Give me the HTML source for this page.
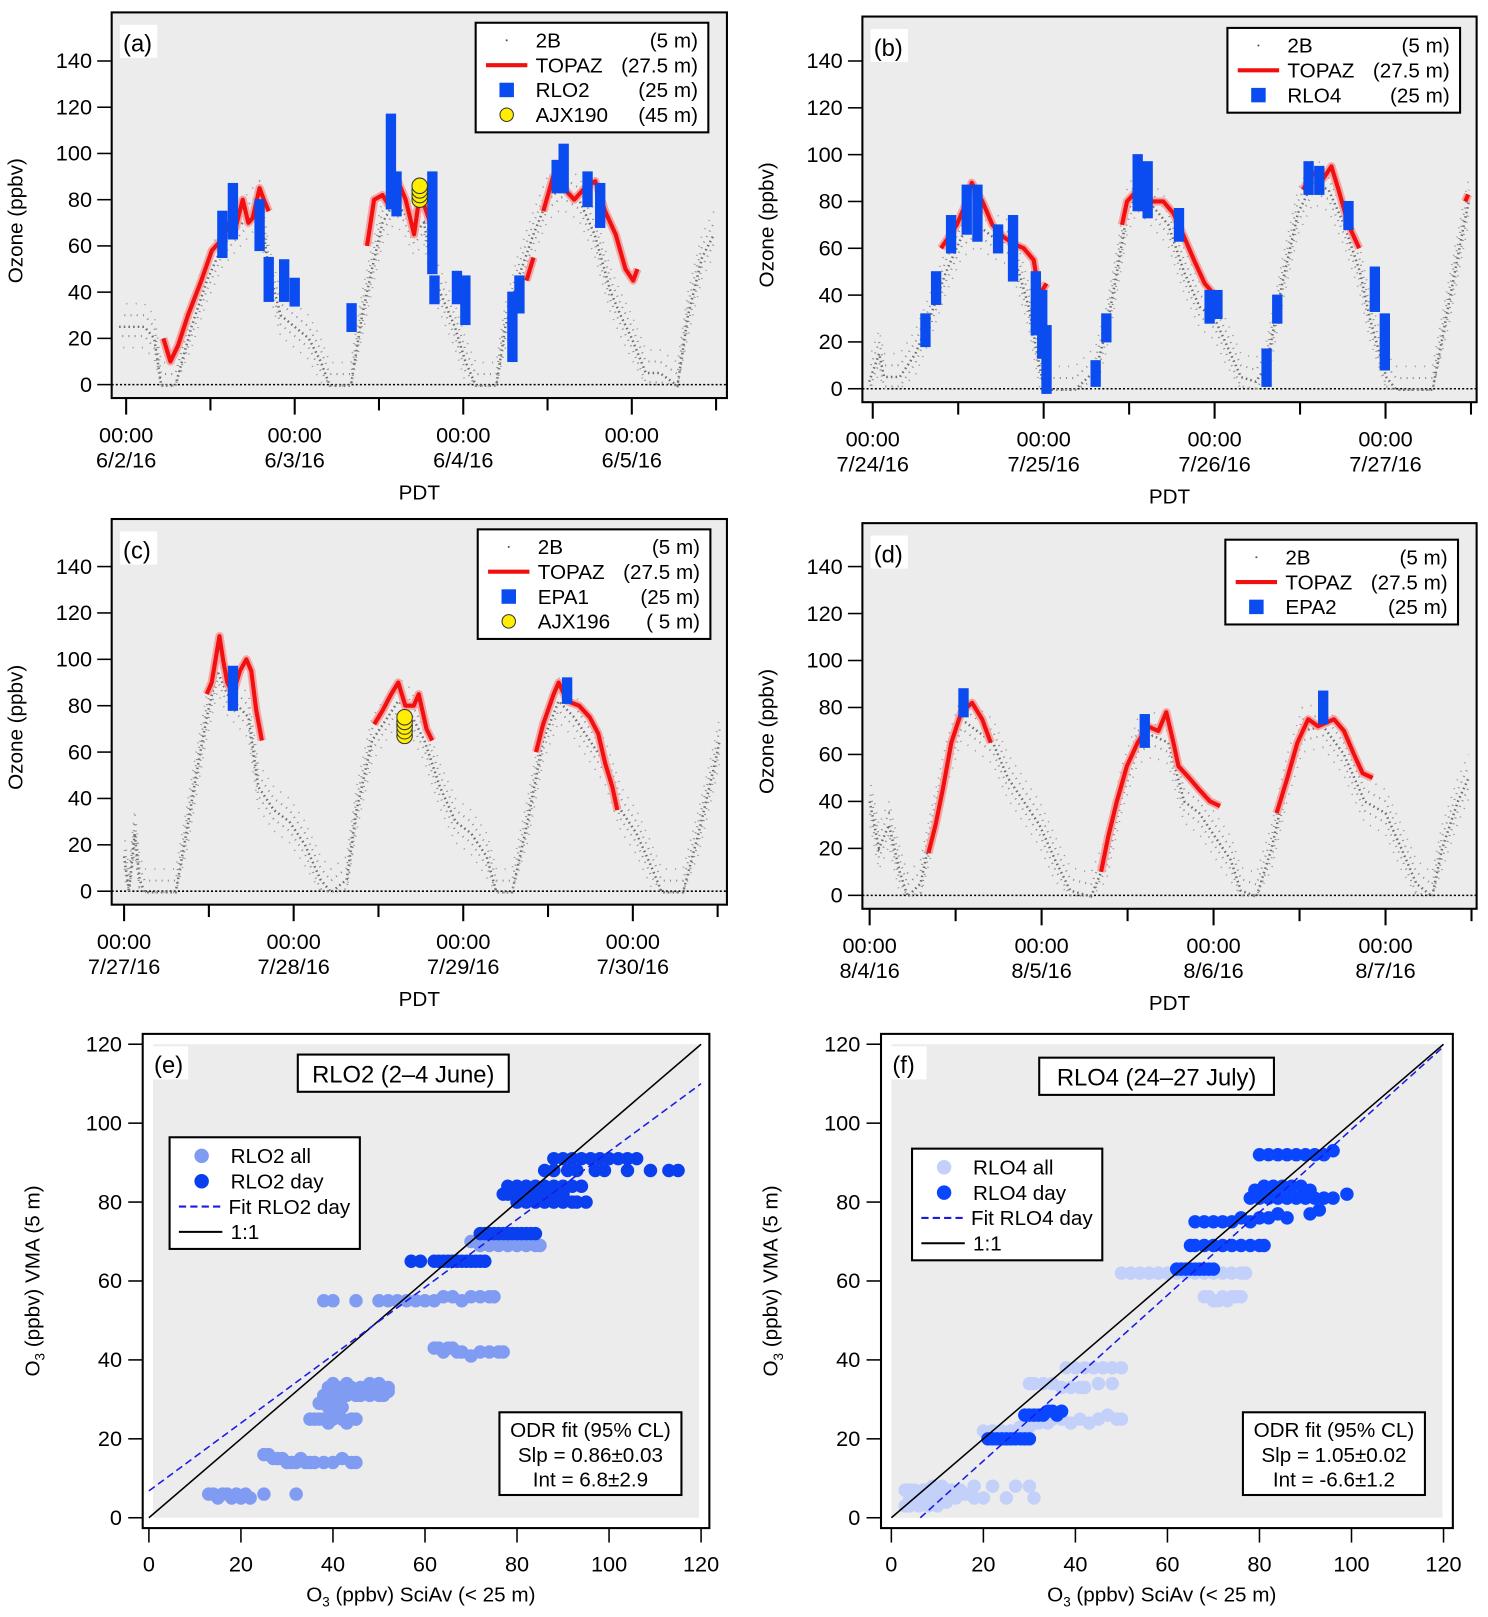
<!DOCTYPE html>
<html><head><meta charset="utf-8">
<style>
html,body{margin:0;padding:0;background:#fff;}
svg{display:block;font-family:"Liberation Sans",sans-serif;}
</style></head>
<body>
<svg id="fig" width="1488" height="1617" viewBox="0 0 1439 1564" preserveAspectRatio="none" xmlns="http://www.w3.org/2000/svg"></svg>
<script>
// ===== Panel (a) data: hours since first date tick, ozone ppbv =====
const aGreyH=[-1,2.6,4,5,7,9.3,11.5,13.7,16,18,19,20.3,22,24,26,27.7,29,32,33.6,35,36.5,38,39.5,41,42.4,44,45.4,46.8,48.3,49.8,52.7,54,55.7,58,60,62,64.5,66.7,69,70.4,72,74,76,78.5,80,82,83.7];
const aGreyV=[25,25,20,0,0,25,45,60,68,75,78,50,30,25,20,10,0,0,30,50,70,78,75,65,70,45,35,25,10,0,0,25,45,65,80,85,80,65,40,30,20,5,5,0,30,55,65];
const aRedH=[5.3,6.3,7.4,8.8,10.7,12.2,13.7,14.7,15.6,16.6,17.4,18,19,19.6,20.3,null,34.3,35.3,36.5,37.3,38.7,39.8,41,41.7,42.4,43.3,null,57,58,null,59.4,60.8,62.3,63.8,65.3,66.8,68.2,69.7,71.1,72.2,72.8];
const aRedV=[20,10,17,30,45,58,63,70,68,80,70,72,85,80,75,null,60,80,82,78,88,80,65,80,78,70,null,45,55,null,75,90,85,80,85,88,75,65,50,45,50];
const aBlueH=[13.7,15.2,19,20.3,22.5,24,32.1,37.7,38.5,43.6,43.9,47.1,48.3,55,56,61.3,62.3,65.7,67.5];
const aBlueMin=[57,65,60,38,38,36,25,78,75,50,37,37,28,12,33,85,85,79,70];
const aBlueMax=[73,85,78,53,52,44,33,115,90,90,45,47,45,38,45,95,102,90,85];
const aYelH=[41.8,41.8,41.8,41.8];
const aYelV=[80,82,84,86];
// ===== Panel (b) =====
const bGreyH=[-0.5,0.9,1.6,3.8,6,8,10.3,12.5,14.7,16.8,19,20.5,21.9,23.4,24.1,28.4,31.3,32.8,34.3,35.7,37.2,39.3,41.5,43.7,45.9,48,49.5,51.7,53.8,55.3,57.5,59.7,61.8,64,66.2,68.4,69.8,72.1,73.5,78.6,80.8,83,83.7];
const bGreyV=[3,15,5,5,15,30,50,65,70,65,62,50,35,10,0,0,8,25,50,75,85,78,70,50,35,30,20,5,3,10,45,75,88,85,70,50,30,5,0,0,35,70,80];
const bRedH=[9.6,11.8,13.2,13.9,15.4,16.8,18.3,19.7,21.2,22.6,23.4,24.4,null,35,35.7,37.2,38.6,40.8,42.2,43.7,45.1,46.6,48,48.8,null,60.4,61.8,63.3,64.4,65.4,66.8,68.3,null,83.2,83.6];
const bRedV=[60,70,80,88,80,70,65,62,60,55,40,45,null,70,80,85,80,80,75,65,55,45,40,38,null,85,92,90,95,85,70,60,null,80,83];
const bBlueH=[7.4,8.9,11,13.2,14.7,17.6,19.7,22.9,23.8,24.4,31.3,32.8,37.2,38.6,43,47.3,48.4,55.3,56.8,61.2,62.7,66.8,70.5,71.9];
const bBlueMin=[20,38,60,68,65,60,48,25,15,0,3,22,78,75,65,30,32,3,30,85,85,70,35,10];
const bBlueMax=[30,48,72,85,85,68,72,48,40,25,10,30,98,95,75,40,40,15,38,95,93,78,50,30];
// ===== Panel (c) =====
const cGreyH=[0,0.7,1.5,2.2,2.9,7.3,8.8,10.2,11.7,13.2,14.6,16.1,17.6,19,21.2,23.4,25.6,27.8,29.3,31.5,32.9,35.1,37.3,38.8,40.3,42.5,44.7,46.9,49.1,51.3,52.7,54.9,57.1,59.3,61.5,63.7,65.9,68.1,70.3,72.5,74.7,76.1,79.1,81.3,83.6,84.3];
const cGreyV=[15,0,25,5,0,0,25,50,75,95,85,80,75,45,35,30,20,5,0,5,35,65,75,82,78,65,45,30,25,15,0,0,30,65,82,75,65,55,35,25,10,0,0,25,55,65];
const cRedH=[11.7,12.4,13.5,14,14.6,15.4,16.4,17.3,18,18.7,19.5,null,35.4,36.6,37.8,38.8,39.8,41,41.7,42.8,43.6,null,58.3,59.3,60.8,61.5,62.7,64.4,65.9,67.1,68.1,69.1,69.8];
const cRedV=[85,90,110,100,90,85,95,100,95,78,65,null,72,78,85,90,80,80,85,70,65,null,60,72,85,90,82,80,75,68,55,45,35];
const cBlueH=[15.4,62.7];
const cBlueMin=[80,83];
const cBlueMax=[95,90];
const cYelH=[39.7,39.7,39.7,39.7,39.7];
const cYelV=[67,69,71,73,75];
// ===== Panel (d) =====
const dGreyH=[0,1.3,2.7,4.2,5.3,7.1,8.5,10.7,12.8,15,17.2,19.3,21.5,23.7,25.9,28,30.9,33,35.2,37.4,39.5,41.7,43.9,46,48.2,50.4,51.8,54,56.1,58.3,60.4,63.3,66.2,69.1,72,74.2,76.3,78.5,79.9,82.1,83.6];
const dGreyV=[40,20,30,10,0,5,25,55,75,70,65,50,40,30,15,2,0,15,45,65,68,65,40,35,25,15,2,0,20,50,70,72,60,40,35,20,5,0,20,40,50];
const dRedH=[8.2,9.2,10.2,11.4,12.8,14.3,15.7,16.9,null,32.3,33.3,34.5,35.9,37.4,38.8,40.3,41.4,42.4,43.1,44.6,46,47.5,48.9,null,56.8,58.3,59.7,61.2,62.6,64.8,66.2,67.6,68.8,70.2];
const dRedV=[18,30,45,65,78,82,75,65,null,10,25,40,55,65,72,70,78,65,55,50,45,40,38,null,35,50,65,75,72,75,70,60,52,50];
const dBlueH=[13.1,38.4,63.3];
const dBlueMin=[78,65,75];
const dBlueMax=[86,75,85];
// ===== Panel (e) scatter: x = SciAv, y = VMA =====
const eAllX=[13,14,15,16,17,18,19,20,21,22,25,32, 25,26,27,28,29,30,31,32,33,34,35,36,38,40,42,44,45, 35,36,37,38,39,40,42,43,44,45, 37,38,39,40,41,42, 38,39,40,41,42,43,44,45,46,47,48,49,50,51,52, 39,40,41,42,43,44,46,48,50,52, 62,63,64,65,66,67,68,70,72,74,76,77, 38,40,45,50,52,54,56,58,60,62,64,66,68,70,72,74,75, 70,72,74,76,78,80,82,84,85];
const eAllY=[6,6,5,6,6,5,6,5,6,5,6,6, 16,16,15,15,15,14,14,14,15,14,14,14,14,14,15,14,14, 25,25,25,25,24,25,25,24,25,25, 29,29,28,29,28,28, 31,31,31,31,32,31,32,31,31,32,31,32,31,31,32, 33,34,33,33,34,33,33,34,34,33, 43,43,42,43,43,42,42,41,42,42,42,42, 55,55,55,55,55,55,55,55,55,55,56,56,55,56,56,56,56, 70,69,69,69,69,69,69,69,69];
const eDayX=[57,59,62,63,64,65,66,67,68,69,70,71,72,73, 72,73,74,75,76,77,78,79,80,81,82,83,84, 77,78,79,80,81,82,83,84,85,86,87,88,89,90,92,95, 78,80,82,84,86,88,90,92,94, 80,82,84,86,88,90,93, 86,88,91,93,97,99,104,109,113,115, 88,90,92,94,96,98,100,102,104,106];
const eDayY=[65,65,65,65,65,65,65,65,65,65,65,65,65,65, 72,72,72,72,72,72,72,72,72,72,72,72,72, 82,82,82,82,82,82,82,82,82,82,82,82,82,82,80,80, 84,84,84,84,84,84,84,84,84, 80,80,80,80,80,80,80, 88,88,88,88,88,88,88,88,88,88, 91,91,91,91,91,91,91,91,91,91];
// ===== Panel (f) scatter =====
const fAllX=[3,4,5,6,7,8,9,10,11,12,13,14,15, 4,5,6,8,10,12,14,16,18,20, 3,4,6,8,10, 18,22,27,30,25,31, 20,22,24,26,28,30,32,34, 35,37,39,41,43,45,47,49,50, 30,31,33,35,37,39,41,42, 38,40,42,44,46,48,50, 45,48, 68,69,70,71,72,73,74,75,76, 50,52,54,56,58,60,62,64,66,68,70,72,74,76,77];
const fAllY=[7,7,7,6,7,7,8,7,8,7,7,6,7, 5,5,5,4,5,4,5,6,5,5, 3,3,3,3,3, 8,8,8,8,5,5, 22,22,22,22,23,23,24,24, 25,25,24,25,24,25,26,25,25, 34,34,34,34,33,33,33,33, 38,38,38,38,38,38,38, 34,34, 56,56,55,55,56,55,56,56,56, 62,62,62,62,62,62,62,62,62,62,62,62,62,62,62];
const fDayX=[21,22,23,24,25,26,27,28,29,30, 29,30,31,32,33,34,35,36,37, 62,63,64,65,66,67,68,69,70, 65,66,68,70,72,74,76,78,80,81, 66,68,70,72,74,76,78,80,82,84,86, 78,80,82,84,86,88,90,92,94,96,99, 79,81,83,85,87,89,91, 91,93, 80,82,84,86,88,90,92,94,96];
const fDayY=[20,20,20,20,20,20,20,20,20,20, 26,26,26,26,26,27,27,26,27, 63,63,63,63,63,63,63,63,63, 69,69,69,69,69,69,69,69,69,69, 75,75,75,75,75,76,75,76,76,77,76, 81,81,81,81,81,81,81,81,81,81,82, 83,84,84,84,84,84,83, 77,78, 92,92,92,92,92,92,92,92,93];
const tsTicks=[0,20,40,60,80,100,120,140];
const scTicks=[0,20,40,60,80,100,120];

const NS="http://www.w3.org/2000/svg";
const svg=document.getElementById('fig');
function mk(tag,attrs,parent){const e=document.createElementNS(NS,tag);for(const k in attrs)e.setAttribute(k,attrs[k]);(parent||svg).appendChild(e);return e;}
function txt(s,x,y,size,anchor,parent){const t=mk('text',{x:x,y:y,'font-size':size,'text-anchor':anchor||'start',fill:'#000'},parent);t.textContent=s;return t;}

function timePanel(P){
  const g=mk('g',{});
  
  
  const X=h=>P.t0+h*P.pxh, Y=v=>P.y0-v*P.pxv;
  const bg=mk('rect',{x:P.x0,y:P.y1,width:P.x2-P.x0,height:P.y2-P.y1,fill:'#ececec',stroke:'#000','stroke-width':2},g);
  
  
  const zl=mk('line',{x1:P.x0,x2:P.x2,y1:Y(0),y2:Y(0),stroke:'#000','stroke-width':1.5,'stroke-dasharray':'2 2'},g);
  
  
  tsTicks.forEach(v=>{
    mk('line',{x1:P.x0-14,x2:P.x0,y1:Y(v),y2:Y(v),stroke:'#000','stroke-width':1.5},g);
    const t=txt(String(v),P.x0-19,Y(v)+7,21,'end',g);
    
    
  });
  const yl=txt('Ozone (ppbv)',0,0,20,'middle',g);
  yl.setAttribute('transform','translate('+(P.x0-86)+','+((P.y1+P.y2)/2+15)+') rotate(-90)');
  
  
  for(let h=-12;h<=96;h+=12){const x=X(h);if(x<P.x0-1||x>P.x2+1)continue;
    mk('line',{x1:x,x2:x,y1:P.y2,y2:P.y2+(h%24===0?16:12),stroke:'#000','stroke-width':2},g);}
  P.dates.forEach((d,i)=>{const x=X(i*24);
    const t1=txt('00:00',x,P.y2+43,21,'middle',g);
    
    
    const t2=txt(d,x,P.y2+67,21,'middle',g);
    
    
  });
  const xl=txt('PDT',(P.x0+P.x2)/2,P.y2+98,20,'middle',g);
  
  
  // grey 2B as a scattered band
  [[0,'#6e6e6e',2.4,'1.5 3',0],[5,'#8a8a8a',2,'1 5',1],[-4,'#8a8a8a',2,'1 5',3],[10,'#999',1.6,'1 8',2],[-9,'#999',1.6,'1 8',5]].forEach(o=>{
    const gp2=P.gH.map((h,i)=>X(h)+','+(Y(Math.max(0,P.gV[i]+o[0]))+(P.gV[i]===0?1:0))).join(' ');
    const pl=mk('polyline',{points:gp2,fill:'none',stroke:o[1],'stroke-width':o[2],'stroke-dasharray':o[3],'stroke-dashoffset':o[4]},g);
    
    
  });
  let seg=[];const segs=[];
  P.rH.forEach((h,i)=>{if(h===null){if(seg.length)segs.push(seg);seg=[];}else seg.push(X(h)+','+Y(P.rV[i]));});
  if(seg.length)segs.push(seg);
  segs.forEach(s=>{
    mk('polyline',{points:s.join(' '),fill:'none',stroke:'#f6a5a5','stroke-width':8,'stroke-linejoin':'round'},g);
    const pl=mk('polyline',{points:s.join(' '),fill:'none',stroke:'#f01010','stroke-width':4,'stroke-linejoin':'round'},g);
    
    
  });
  P.bH.forEach((h,i)=>{
    const r=mk('rect',{x:X(h)-5,y:Y(P.bMax[i])-5,width:10,height:Y(P.bMin[i])-Y(P.bMax[i])+10,fill:'#0a4cf0'},g);
    
    
  });
  if(P.yH){P.yH.forEach((h,i)=>{
    const c=mk('circle',{cx:X(h),cy:Y(P.yV[i]),r:7.5,fill:'#ffee00',stroke:'#333','stroke-width':1},g);
    
    
  });}
  mk('rect',{x:P.x0+8,y:P.y1+12,width:36,height:32,fill:'#fff'},g);
  const lt=txt(P.letter,P.x0+11,P.y1+38,23,'start',g);
  
  
  const L=P.leg;
  const lg=mk('g',{},g);
  
  
  mk('rect',{x:L.x,y:L.y,width:L.w,height:L.rows.length*24+10,fill:'#fff',stroke:'#000','stroke-width':2},lg);
  L.rows.forEach((r,i)=>{
    const cy=L.y+17+i*24, sx=L.x+30;
    if(r[0]==='dot')mk('circle',{cx:sx,cy:cy,r:1,fill:'#555'},lg);
    if(r[0]==='line')mk('line',{x1:sx-20,x2:sx+20,y1:cy,y2:cy,stroke:'#f01010','stroke-width':4},lg);
    if(r[0]==='sq')mk('rect',{x:sx-7,y:cy-7,width:14,height:14,fill:'#0a4cf0'},lg);
    if(r[0]==='circ')mk('circle',{cx:sx,cy:cy,r:6.5,fill:'#ffee00',stroke:'#333','stroke-width':1},lg);
    const a=txt(r[1],L.x+58,cy+7,20,'start',lg);
    
    
    txt(r[2],L.x+L.w-10,cy+7,20,'end',lg);
  });
}

timePanel({name:'panel-a',letter:'(a)',x0:108,x2:703,y1:12,y2:385,t0:122,pxh:163/24,y0:372,pxv:313/140,
  dates:['6/2/16','6/3/16','6/4/16','6/5/16'],gH:aGreyH,gV:aGreyV,rH:aRedH,rV:aRedV,bH:aBlueH,bMin:aBlueMin,bMax:aBlueMax,yH:aYelH,yV:aYelV,
  leg:{x:460,y:22,w:225,rows:[['dot','2B','(5 m)'],['line','TOPAZ','(27.5 m)'],['sq','RLO2','(25 m)'],['circ','AJX190','(45 m)']]}});
timePanel({name:'panel-b',letter:'(b)',x0:834,x2:1428,y1:16,y2:389,t0:844,pxh:165.3/24,y0:376,pxv:317/140,
  dates:['7/24/16','7/25/16','7/26/16','7/27/16'],gH:bGreyH,gV:bGreyV,rH:bRedH,rV:bRedV,bH:bBlueH,bMin:bBlueMin,bMax:bBlueMax,
  leg:{x:1187,y:27,w:225,rows:[['dot','2B','(5 m)'],['line','TOPAZ','(27.5 m)'],['sq','RLO4','(25 m)']]}});
timePanel({name:'panel-c',letter:'(c)',x0:108,x2:703,y1:502,y2:875,t0:120,pxh:164/24,y0:862,pxv:314/140,
  dates:['7/27/16','7/28/16','7/29/16','7/30/16'],gH:cGreyH,gV:cGreyV,rH:cRedH,rV:cRedV,bH:cBlueH,bMin:cBlueMin,bMax:cBlueMax,yH:cYelH,yV:cYelV,
  leg:{x:462,y:512,w:225,rows:[['dot','2B','(5 m)'],['line','TOPAZ','(27.5 m)'],['sq','EPA1','(25 m)'],['circ','AJX196','( 5 m)']]}});
timePanel({name:'panel-d',letter:'(d)',x0:834,x2:1428,y1:506,y2:879,t0:841,pxh:166.3/24,y0:866,pxv:318/140,
  dates:['8/4/16','8/5/16','8/6/16','8/7/16'],gH:dGreyH,gV:dGreyV,rH:dRedH,rV:dRedV,bH:dBlueH,bMin:dBlueMin,bMax:dBlueMax,
  leg:{x:1185,y:522,w:225,rows:[['dot','2B','(5 m)'],['line','TOPAZ','(27.5 m)'],['sq','EPA2','(25 m)']]}});

function scatterPanel(P){
  const g=mk('g',{});
  
  
  const X=v=>P.xz+v*(P.x120-P.xz)/120, Y=v=>P.yz-v*(P.yz-P.y120)/120;
  mk('rect',{x:P.fx0,y:P.fy0,width:P.fx1-P.fx0,height:P.fy1-P.fy0,fill:'#fff',stroke:'#000','stroke-width':2},g);
  const bg=mk('rect',{x:P.fx0+10,y:P.fy0+10,width:P.fx1-P.fx0-20,height:P.fy1-P.fy0-20,fill:'#ececec'},g);
  
  
  scTicks.forEach(v=>{
    mk('line',{x1:P.fx0-14,x2:P.fx0,y1:Y(v),y2:Y(v),stroke:'#000','stroke-width':1.5},g);
    const t=txt(String(v),P.fx0-20,Y(v)+7,21,'end',g);
    
    
    mk('line',{x1:X(v),x2:X(v),y1:P.fy1,y2:P.fy1+14,stroke:'#000','stroke-width':1.5},g);
    const u=txt(String(v),X(v),P.fy1+42,21,'middle',g);
    
    
  });
  const xl=mk('text',{x:(P.fx0+P.fx1)/2-5,y:P.fy1+71,'font-size':20,'text-anchor':'middle'},g);
  xl.innerHTML='O<tspan font-size="13" dy="5">3</tspan><tspan dy="-5"> (ppbv) SciAv (&lt; 25 m)</tspan>';
  
  
  const yl=mk('text',{'font-size':20,'text-anchor':'middle',transform:'translate('+(P.fx0-100)+','+((P.fy0+P.fy1)/2)+') rotate(-90)'},g);
  yl.innerHTML='O<tspan font-size="13" dy="5">3</tspan><tspan dy="-5"> (ppbv) VMA (5 m)</tspan>';
  
  
  P.aX.forEach((x,i)=>{const c=mk('circle',{cx:X(x),cy:Y(P.aY[i]),r:6.5,fill:P.light},g);
    
    });
  P.dX.forEach((x,i)=>{const c=mk('circle',{cx:X(x),cy:Y(P.dY[i]),r:6.5,fill:P.dark},g);
    
    });
  const one=mk('line',{x1:X(0),y1:Y(0),x2:X(120),y2:Y(120),stroke:'#000','stroke-width':1.5},g);
  
  
  const xs=Math.max(0,-P.int/P.slp);
  const fit=mk('line',{x1:X(xs),y1:Y(P.int+P.slp*xs),x2:X(120),y2:Y(P.int+P.slp*120),stroke:'#1a1ae6','stroke-width':1.5,'stroke-dasharray':'7 4'},g);
  
  
  mk('rect',{x:P.fx0+8,y:P.fy0+12,width:36,height:32,fill:'#fff'},g);
  const lt=txt(P.letter,P.fx0+11,P.fy0+38,23,'start',g);
  
  
  const T=P.title;
  mk('rect',{x:T.x,y:T.y,width:T.w,height:36,fill:'#fff',stroke:'#000','stroke-width':2},g);
  const tt=txt(T.s,T.x+T.w/2,T.y+27,23,'middle',g);
  
  
  const L=P.leg;
  const lg=mk('g',{},g);
  
  
  mk('rect',{x:L.x,y:L.y,width:184,height:108,fill:'#fff',stroke:'#000','stroke-width':2},lg);
  L.rows.forEach((s,i)=>{const cy=L.y+18+i*24.5,sx=L.x+31;
    if(i===0)mk('circle',{cx:sx,cy:cy,r:7,fill:P.light},lg);
    if(i===1)mk('circle',{cx:sx,cy:cy,r:7,fill:P.dark},lg);
    if(i===2)mk('line',{x1:sx-22,x2:sx+20,y1:cy,y2:cy,stroke:'#1a1ae6','stroke-width':2,'stroke-dasharray':'7 4'},lg);
    if(i===3)mk('line',{x1:sx-22,x2:sx+20,y1:cy,y2:cy,stroke:'#000','stroke-width':2},lg);
    const a=txt(s,L.x+(i===2?57:59),cy+7,20,'start',lg);
    
    
  });
  const O=P.odr;
  mk('rect',{x:O.x,y:O.y,width:176,height:80,fill:'#fff',stroke:'#000','stroke-width':2},g);
  const o1=txt('ODR fit (95% CL)',O.x+88,O.y+24,20,'middle',g);
  
  
  txt('Slp = '+P.slp.toFixed(2)+'±'+O.se,O.x+88,O.y+48,20,'middle',g);
  txt('Int =  '+P.int.toFixed(1)+'±'+O.ie,O.x+88,O.y+72,20,'middle',g);
}
scatterPanel({name:'panel-e',letter:'(e)',fx0:138,fx1:686,fy0:1000,fy1:1478,xz:144,x120:678,yz:1468,y120:1010,
  aX:eAllX,aY:eAllY,dX:eDayX,dY:eDayY,light:'#7f9bf2',dark:'#0a3ff0',slp:0.86,int:6.8,
  title:{x:288,y:1020,w:204,s:'RLO2 (2–4 June)'},
  leg:{x:164,y:1100,rows:['RLO2 all','RLO2 day','Fit RLO2 day','1:1']},
  odr:{x:483,y:1366,se:'0.03',ie:'2.9'}});
scatterPanel({name:'panel-f',letter:'(f)',fx0:852,fx1:1405,fy0:1000,fy1:1478,xz:862,x120:1396,yz:1468,y120:1010,
  aX:fAllX,aY:fAllY,dX:fDayX,dY:fDayY,light:'#c3d1fa',dark:'#0a46ff',slp:1.05,int:-6.6,
  title:{x:1005,y:1023,w:227,s:'RLO4 (24–27 July)'},
  leg:{x:882,y:1111,rows:['RLO4 all','RLO4 day','Fit RLO4 day','1:1']},
  odr:{x:1202,y:1366,se:'0.02',ie:'1.2'}});
</script>
</body></html>
